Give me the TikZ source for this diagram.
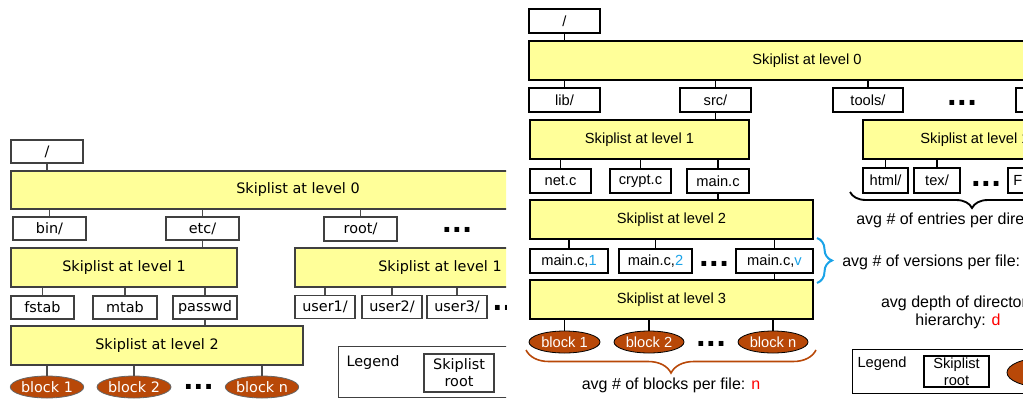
\documentclass[tikz,border=0pt]{standalone}
\usepackage{fontspec}
\usetikzlibrary{shapes.geometric,decorations.pathreplacing}
\newfontfamily\dejavu{DejaVu Sans}
\newfontfamily\arial{Liberation Sans}
\definecolor{skipyellow}{RGB}{255,255,153}
\definecolor{blockbrown}{RGB}{184,72,8}
\definecolor{verblue}{RGB}{26,163,232}
\definecolor{varred}{RGB}{255,0,0}

\tikzset{
  boxsize/.style 2 args={minimum width=#1*0.75pt,minimum height=#2*0.75pt},
  ltext/.style={inner sep=0pt,font=\dejavu\fontsize{10.8}{12.75}\selectfont},
  lfile/.style={ltext,draw=black!75,fill=white,line width=0.8pt},
  lskip/.style={lfile,fill=skipyellow},
  lblock/.style={ltext,ellipse,draw=black!60,fill=blockbrown,text=white,line width=0.6pt},
  llink/.style={line width=0.8pt,draw=black!70},
  rtext/.style={inner sep=0pt,font=\arial\fontsize{11}{12.75}\selectfont},
  rfile/.style={rtext,draw=black,fill=white,line width=0.8pt},
  rskip/.style={rfile,fill=skipyellow},
  rblock/.style={rtext,ellipse,draw=black,fill=blockbrown,text=white,line width=0.6pt},
  rlink/.style={line width=0.8pt,draw=black},
  note/.style={inner sep=0pt,font=\arial\fontsize{12}{13.5}\selectfont},
  moredots/.style={inner sep=0pt,font=\dejavu\bfseries\fontsize{20}{20}\selectfont},
  bracedown/.style={decorate,decoration={brace,mirror,amplitude=#1*0.75pt},line width=1.4pt},
  braceright/.style={decorate,decoration={brace,amplitude=#1*0.75pt},line width=1.5pt}
}

\begin{document}
\begin{tikzpicture}[x=0.75pt,y=-0.75pt]
\useasboundingbox (0,0) rectangle (1023,400);

% first tree (left, cut at its right side)
\begin{scope}
\clip (0,0) rectangle (506,400);
\node[lfile,boxsize={72}{23}] (lroot) at (47,151.5) {/};
\node[lskip,boxsize={574}{38}] (l0) at (298,190) {Skiplist at level 0};
\node[lfile,boxsize={73}{23}] (bin) at (49.5,228.5) {bin/};
\node[lfile,boxsize={73}{23}] (etc) at (202.5,228.5) {etc/};
\node[lfile,boxsize={73}{24}] (root) at (360.5,229) {root/};
\node[moredots] (ldotsa) at (457,230) {...};
\node[lskip,boxsize={226}{39}] (l1a) at (124,267.5) {Skiplist at level 1};
\node[lskip,boxsize={290}{39}] (l1b) at (440,267.5) {Skiplist at level 1};
\node[lfile,boxsize={63}{23}] (fstab) at (42.5,307.5) {fstab};
\node[lfile,boxsize={64}{23}] (mtab) at (125,307.5) {mtab};
\node[lfile,boxsize={64}{23}] (passwd) at (205,307.5) {passwd};
\node[lfile,boxsize={60}{23}] (user1) at (325,307) {user1/};
\node[lfile,boxsize={60}{23}] (user2) at (392,307) {user2/};
\node[lfile,boxsize={60}{23}] (user3) at (457,307) {user3/};
\node[moredots] (ldotsb) at (507.5,308) {...};
\node[lskip,boxsize={292}{39}] (l2) at (157,345.5) {Skiplist at level 2};
\node[lblock,boxsize={72}{22}] (lb1) at (47,387) {block 1};
\node[lblock,boxsize={74}{22}] (lb2) at (134,387) {block 2};
\node[moredots] (ldotsc) at (198.5,387) {...};
\node[lblock,boxsize={72}{22}] (lbn) at (262,387) {block n};
% legend
\node[lfile,boxsize={330}{51},anchor=north west] (llegend) at (338,346) {};
\node[ltext] (llegendtext) at (373,363) {Legend};
\node[lfile,boxsize={70}{38},align=center] (lskiproot) at (459,373) {Skiplist\\root};
% links
\draw[llink] (lroot.south) -- (lroot.south |- l0.north);
\draw[llink] (bin.north) -- (bin.north |- l0.south);
\draw[llink] (etc.north) -- (etc.north |- l0.south);
\draw[llink] (root.north) -- (root.north |- l0.south);
\draw[llink] (etc.south) -- (etc.south |- l1a.north);
\draw[llink] (fstab.north) -- (fstab.north |- l1a.south);
\draw[llink] (mtab.north) -- (mtab.north |- l1a.south);
\draw[llink] (passwd.north) -- (passwd.north |- l1a.south);
\draw[llink] (passwd.south) -- (passwd.south |- l2.north);
\draw[llink] (user1.north) -- (user1.north |- l1b.south);
\draw[llink] (user2.north) -- (user2.north |- l1b.south);
\draw[llink] (user3.north) -- (user3.north |- l1b.south);
\draw[llink] (lb1.north) -- (lb1.north |- l2.south);
\draw[llink] (lb2.north) -- (lb2.north |- l2.south);
\draw[llink] (lbn.north) -- (lbn.north |- l2.south);
\end{scope}

% second tree (right, cut at the page edge)
\begin{scope}
\clip (520,0) rectangle (1023,400);
\node[rfile,boxsize={71}{24}] (rroot) at (564.5,21) {/};
\node[rskip,boxsize={556}{39}] (r0) at (807,60.5) {Skiplist at level 0};
\node[rfile,boxsize={71}{24}] (lib) at (564.5,100) {lib/};
\node[rfile,boxsize={71}{24}] (src) at (715.5,100) {src/};
\node[rfile,boxsize={70}{24}] (tools) at (868,100) {tools/};
\node[moredots] (rdotsa) at (962,103) {...};
\node[rfile,boxsize={71}{24}] (rlast) at (1051.5,100) {};
\node[rskip,boxsize={219}{39}] (r1a) at (639.5,139.5) {Skiplist at level 1};
\node[rskip,boxsize={224}{39}] (r1b) at (975,139.5) {Skiplist at level 1};
\node[rfile,boxsize={61}{24}] (netc) at (560.5,181) {net.c};
\node[rfile,boxsize={61}{24}] (cryptc) at (640.5,181) {crypt.c};
\node[rfile,boxsize={62}{24}] (mainc) at (718,181) {main.c};
\node[rfile,boxsize={45}{25}] (html) at (885.5,180.5) {html/};
\node[rfile,boxsize={46}{25}] (tex) at (937,180.5) {tex/};
\node[moredots] (rdotsb) at (986,184) {...};
\node[rfile,boxsize={62}{25}] (rf) at (1039,180.5) {};
\node[rtext,anchor=west] (rftext) at (1013,180.5) {F};
\node[rskip,boxsize={283}{39}] (r2) at (671.5,219.5) {Skiplist at level 2};
\node[rfile,boxsize={78}{24}] (mc1) at (569,261) {main.c,\textcolor{verblue}{1}};
\node[rfile,boxsize={73}{24}] (mc2) at (655.5,261) {main.c,\textcolor{verblue}{2}};
\node[moredots] (rdotsc) at (714,264) {...};
\node[rfile,boxsize={77}{24}] (mcv) at (774.5,261) {main.c,\textcolor{verblue}{v}};
\node[rskip,boxsize={283}{39}] (r3) at (671.5,299.5) {Skiplist at level 3};
\node[rblock,boxsize={71}{22}] (rb1) at (564.5,342) {block 1};
\node[rblock,boxsize={70}{22}] (rb2) at (649,342) {block 2};
\node[moredots] (rdotsd) at (711,344) {...};
\node[rblock,boxsize={70}{22}] (rbn) at (773,342) {block n};
% links
\draw[rlink] (rroot.south) -- (rroot.south |- r0.north);
\draw[rlink] (lib.north) -- (lib.north |- r0.south);
\draw[rlink] (src.north) -- (src.north |- r0.south);
\draw[rlink] (tools.north) -- (tools.north |- r0.south);
\draw[rlink] (rlast.north) -- (rlast.north |- r0.south);
\draw[rlink] (src.south) -- (src.south |- r1a.north);
\draw[rlink] (netc.north) -- (netc.north |- r1a.south);
\draw[rlink] (cryptc.north) -- (cryptc.north |- r1a.south);
\draw[rlink] (mainc.north) -- (mainc.north |- r1a.south);
\draw[rlink] (html.north) -- (html.north |- r1b.south);
\draw[rlink] (tex.north) -- (tex.north |- r1b.south);
\draw[rlink] (rf.north) -- (rf.north |- r1b.south);
\draw[rlink] (mainc.south) -- (mainc.south |- r2.north);
\draw[rlink] (mc1.north) -- (mc1.north |- r2.south);
\draw[rlink] (mc2.north) -- (mc2.north |- r2.south);
\draw[rlink] (mcv.north) -- (mcv.north |- r2.south);
\draw[rlink] (mcv.south) -- (mcv.south |- r3.north);
\draw[rlink] (rb1.north) -- (rb1.north |- r3.south);
\draw[rlink] (rb2.north) -- (rb2.north |- r3.south);
\draw[rlink] (rbn.north) -- (rbn.north |- r3.south);
% braces and notes
\coordinate (entl) at (850,192);
\coordinate (entr) at (1094,192);
\draw[bracedown=16] (entl) -- (entr);
\node[note,anchor=west] (nentries) at (856,220) {avg \# of entries per directory};
\coordinate (vert) at (817,238);
\coordinate (verb) at (817,283);
\draw[braceright=15,verblue] (vert) -- (verb);
\node[note,anchor=west] (nversions) at (842,262) {avg \# of versions per file: \textcolor{verblue}{v}};
\node[note,align=center] (ndepth) at (958,312) {avg depth of directory\\hierarchy: \textcolor{varred}{d}};
\coordinate (blkl) at (526,350);
\coordinate (blkr) at (816,350);
\draw[bracedown=23,blockbrown,line width=1.2pt] (blkl) -- (blkr);
\node[note] (nblocks) at (671,385) {avg \# of blocks per file: \textcolor{varred}{n}};
% legend
\node[rfile,boxsize={300}{44},anchor=north west] (rlegend) at (852,349) {};
\node[rtext] (rlegendtext) at (882,364) {Legend};
\node[rfile,boxsize={65}{31},align=center] (rskiproot) at (956.5,371.5) {Skiplist\\root};
\node[rblock,boxsize={72}{29}] (rlegblock) at (1043,372.5) {};
\end{scope}
\end{tikzpicture}
\end{document}
